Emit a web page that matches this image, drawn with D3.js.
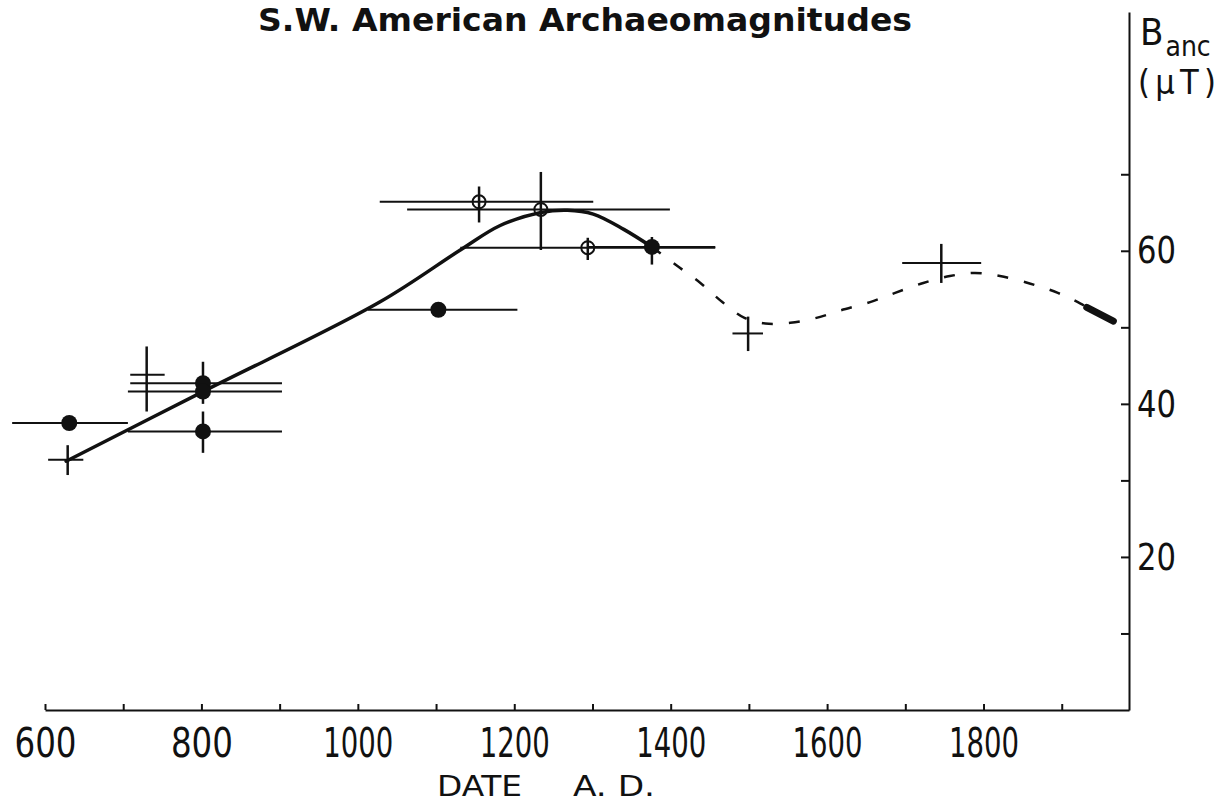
<!DOCTYPE html>
<html>
<head>
<meta charset="utf-8">
<script src="https://cdn.jsdelivr.net/npm/d3@7"></script>
<style>
  html, body { margin: 0; padding: 0; background: #fff; }
  svg { display: block; }
  text { font-family: "Liberation Sans Narrow", "DejaVu Sans Condensed", sans-serif; fill: #111; }
  .axis path, .axis line { stroke: #111; }
</style>
</head>
<body>
<div id="chart"></div>
<script>
// fitted curve, solid part (year, B in microtesla)
const solidCurve = [
  [627, 32.5], [802, 41.6], [1028, 53.3], [1131, 60.1], [1182, 63.3],
  [1234, 65.0], [1268, 65.3], [1301, 64.8], [1340, 62.8], [1376, 60.5]
]
// dashed continuation
const dashedCurve = [
  [1376, 60.5], [1406, 58.2], [1438, 55.8], [1466, 53.3], [1495, 51.2],
  [1521, 50.5], [1553, 50.6], [1585, 51.2], [1617, 52.2], [1655, 53.3],
  [1687, 54.5], [1723, 55.8], [1757, 56.7], [1789, 57.1], [1821, 56.7],
  [1860, 55.7], [1895, 54.5], [1924, 53.1], [1949, 51.6]
]
// thick end piece (modern value)
const modernEnd = [[1932, 52.6], [1966, 50.8]]

// filled circles
const filledPts = [
  { year: 631, value: 37.5, xLo: 558, xHi: 706 },
  { year: 802, value: 42.7, xLo: 709, xHi: 903, yLo: 40.0, yHi: 45.5 },
  { year: 802, value: 41.6, xLo: 706, xHi: 903 },
  { year: 802, value: 36.4, xLo: 706, xHi: 903, yLo: 33.6, yHi: 39.0 },
  { year: 1103, value: 52.3, xLo: 1013, xHi: 1204 },
  { year: 1376, value: 60.5, xLo: 1295, xHi: 1457, yLo: 58.2, yHi: 61.8 }
]
// open circles
const openPts = [
  { year: 1155, value: 66.4, xLo: 1028, xHi: 1301, yLo: 63.7, yHi: 68.4 },
  { year: 1234, value: 65.4, xLo: 1063, xHi: 1399, yLo: 60.1, yHi: 70.3 },
  { year: 1294, value: 60.4, xLo: 1131, xHi: 1457, yLo: 58.8, yHi: 61.7 }
]
// crosses (error bars only)
const crossPts = [
  { year: 629, value: 32.7, xLo: 604, xHi: 649, yLo: 30.7, yHi: 34.6 },
  { year: 730, value: 43.8, xLo: 709, xHi: 753, yLo: 39.0, yHi: 47.5 },
  { year: 1499, value: 49.2, xLo: 1479, xHi: 1518, yLo: 46.9, yHi: 51.4 },
  { year: 1746, value: 58.4, xLo: 1696, xHi: 1797, yLo: 55.8, yHi: 60.9 }
]

const xTicks = [600, 700, 800, 900, 1000, 1100, 1200, 1300, 1400, 1500, 1600, 1700, 1800, 1900]
const xLabels = [600, 800, 1000, 1200, 1400, 1600, 1800]
const yTicks = [10, 20, 30, 40, 50, 60, 70]
const yLabels = [20, 40, 60]

const width = 1227
const height = 806

const svg = d3.select('#chart')
  .append('svg')
  .attr('width', width)
  .attr('height', height)

const xPositionScale = d3.scaleLinear().domain([600, 1986]).range([45, 1129])
const yPositionScale = d3.scaleLinear().domain([0, 91.2]).range([710, 12])

// title
svg.append('text')
  .attr('x', 258)
  .attr('y', 31)
  .attr('font-size', 32)
  .attr('font-weight', 'bold')
  .attr('textLength', 654)
  .attr('lengthAdjust', 'spacingAndGlyphs')
  .text('S.W. American  Archaeomagnitudes')

// axes
const xAxis = d3.axisBottom(xPositionScale)
  .tickValues(xTicks)
  .tickSizeInner(-6)
  .tickSizeOuter(0)
  .tickPadding(19)
  .tickFormat(d => xLabels.includes(d) ? String(d) : '')

svg.append('g')
  .attr('class', 'axis x-axis')
  .attr('transform', 'translate(0,710)')
  .call(xAxis)

const yAxis = d3.axisRight(yPositionScale)
  .tickValues(yTicks)
  .tickSizeInner(-8)
  .tickSizeOuter(0)
  .tickPadding(8)
  .tickFormat(d => yLabels.includes(d) ? String(d) : '')

svg.append('g')
  .attr('class', 'axis y-axis')
  .attr('transform', 'translate(1129,0)')
  .call(yAxis)

svg.selectAll('.axis path').attr('stroke-width', 2)
svg.selectAll('.axis line').attr('stroke-width', 2)

// narrow the tick labels like the original lettering
svg.selectAll('.x-axis .tick text')
  .filter(d => xLabels.includes(d))
  .attr('font-size', 40)
  .attr('font-family', null)
  .attr('textLength', d => String(d).length > 3 ? 70 : 62)
  .attr('lengthAdjust', 'spacingAndGlyphs')
svg.selectAll('.y-axis .tick text')
  .filter(d => yLabels.includes(d))
  .attr('font-size', 38)
  .attr('font-family', null)
  .attr('textLength', 39)
  .attr('lengthAdjust', 'spacingAndGlyphs')

// axis titles
const yTitle = svg.append('text').attr('x', 1140).attr('y', 45).attr('font-size', 38)
yTitle.append('tspan').text('B')
yTitle.append('tspan').attr('font-size', 28).attr('dx', 2).attr('dy', 11).text('anc')
svg.append('text')
  .attr('x', 1138).attr('y', 94).attr('font-size', 34)
  .attr('textLength', 78).attr('lengthAdjust', 'spacing')
  .text('(\u03bcT)')

svg.append('text')
  .attr('x', 437).attr('y', 796).attr('font-size', 29)
  .attr('textLength', 85).attr('lengthAdjust', 'spacingAndGlyphs')
  .text('DATE')
svg.append('text')
  .attr('x', 573).attr('y', 796).attr('font-size', 29)
  .attr('textLength', 82).attr('lengthAdjust', 'spacingAndGlyphs')
  .text('A. D.')

// curve
const line = d3.line()
  .x(d => xPositionScale(d[0]))
  .y(d => yPositionScale(d[1]))
  .curve(d3.curveCatmullRom.alpha(0.5))

svg.append('path')
  .datum(solidCurve)
  .attr('fill', 'none')
  .attr('stroke', '#111')
  .attr('stroke-width', 3.5)
  .attr('stroke-linecap', 'round')
  .attr('d', line)

svg.append('path')
  .datum(dashedCurve)
  .attr('fill', 'none')
  .attr('stroke', '#111')
  .attr('stroke-width', 2.5)
  .attr('stroke-dasharray', '11,16')
  .attr('d', line)

svg.append('path')
  .datum(modernEnd)
  .attr('fill', 'none')
  .attr('stroke', '#111')
  .attr('stroke-width', 7)
  .attr('stroke-linecap', 'round')
  .attr('d', d3.line().x(d => xPositionScale(d[0])).y(d => yPositionScale(d[1])))

// error bars
const allPts = filledPts.concat(openPts, crossPts)

svg.selectAll('.hbar')
  .data(allPts)
  .enter()
  .append('line')
  .attr('class', 'hbar')
  .attr('x1', d => xPositionScale(d.xLo))
  .attr('x2', d => xPositionScale(d.xHi))
  .attr('y1', d => yPositionScale(d.value))
  .attr('y2', d => yPositionScale(d.value))
  .attr('stroke', '#111')
  .attr('stroke-width', 2)

svg.selectAll('.vbar')
  .data(allPts.filter(d => d.yLo !== undefined))
  .enter()
  .append('line')
  .attr('class', 'vbar')
  .attr('x1', d => xPositionScale(d.year))
  .attr('x2', d => xPositionScale(d.year))
  .attr('y1', d => yPositionScale(d.yLo))
  .attr('y2', d => yPositionScale(d.yHi))
  .attr('stroke', '#111')
  .attr('stroke-width', 2.5)

// markers
svg.selectAll('.filled')
  .data(filledPts)
  .enter()
  .append('circle')
  .attr('class', 'filled')
  .attr('cx', d => xPositionScale(d.year))
  .attr('cy', d => yPositionScale(d.value))
  .attr('r', 8)
  .attr('fill', '#111')

svg.selectAll('.open')
  .data(openPts)
  .enter()
  .append('circle')
  .attr('class', 'open')
  .attr('cx', d => xPositionScale(d.year))
  .attr('cy', d => yPositionScale(d.value))
  .attr('r', 6.5)
  .attr('fill', 'none')
  .attr('stroke', '#111')
  .attr('stroke-width', 2)
</script>
</body>
</html>
